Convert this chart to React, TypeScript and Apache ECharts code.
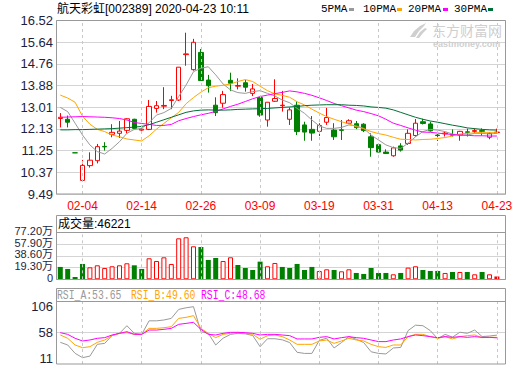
import React, { useEffect, useRef } from 'react';
import * as echarts from 'echarts';

const DATES = ['01-22','01-23','02-03','02-04','02-05','02-06','02-07','02-10','02-11','02-12','02-13','02-14','02-17','02-18','02-19','02-20','02-21','02-24','02-25','02-26','02-27','02-28','03-02','03-03','03-04','03-05','03-06','03-09','03-10','03-11','03-12','03-13','03-16','03-17','03-18','03-19','03-20','03-23','03-24','03-25','03-26','03-27','03-30','03-31','04-01','04-02','04-03','04-07','04-08','04-09','04-10','04-13','04-14','04-15','04-16','04-17','04-20','04-21','04-22','04-23'];
const TICK_DATES = ['02-04','02-14','02-26','03-09','03-19','03-31','04-13','04-23'];
const PRICE_TICKS = ['9.49','10.37','11.25','12.13','13.01','13.88','14.76','15.64','16.52'];
const VOL_TICKS = ['0','19.30万','38.60万','57.90万','77.20万'];
const RSI_TICKS = ['11','58','106'];

const OPEN = [12.55,12.52,11.16,10.04,10.64,10.84,11.42,11.91,11.95,12.07,12.52,12.08,12.11,12.96,13.05,13.28,13.30,15.14,14.53,15.23,14.11,13.09,13.17,14.10,13.86,14.00,13.57,13.40,12.49,13.25,13.07,12.52,13.09,12.29,12.11,12.03,12.40,12.08,12.09,12.36,12.34,12.32,11.81,11.49,11.19,11.04,11.44,11.54,11.86,12.42,12.33,11.88,11.93,11.90,11.88,12.01,12.03,12.06,11.79,11.98];
const CLOSE = [12.60,12.40,11.16,10.65,10.86,11.41,11.40,11.99,12.04,12.54,12.15,12.12,13.04,13.07,13.08,13.31,14.63,15.17,15.64,14.09,13.88,12.79,13.52,13.98,13.89,13.82,13.75,12.69,13.21,13.36,13.09,12.90,12.02,12.00,11.96,12.27,12.59,11.81,12.07,12.46,12.18,12.06,11.37,11.19,11.13,11.36,11.27,11.95,12.36,12.35,12.05,11.86,11.96,11.87,12.03,11.99,12.06,12.03,11.95,12.00];
const LOW = [12.19,12.19,11.16,10.04,10.56,10.73,11.25,11.79,11.76,11.95,12.12,12.05,12.08,12.79,12.93,12.93,13.26,14.69,14.49,14.09,13.60,12.65,12.99,13.66,13.73,13.64,13.46,12.62,12.22,13.22,12.83,12.29,11.88,11.65,11.65,11.84,12.29,11.68,11.68,12.33,12.12,12.00,11.00,11.18,11.13,11.00,11.21,11.48,11.81,12.31,12.02,11.64,11.82,11.82,11.65,11.82,11.95,11.86,11.71,11.95];
const HIGH = [12.77,12.67,11.16,10.87,11.18,11.52,11.59,12.32,12.45,12.56,12.54,12.22,13.30,13.26,13.82,13.47,14.63,16.03,15.78,15.37,14.32,13.41,13.67,14.41,14.18,14.11,13.95,13.42,13.21,14.14,13.67,13.00,13.25,12.42,12.65,12.36,12.98,12.36,12.49,12.52,12.45,12.36,11.95,11.55,11.30,11.41,11.55,12.11,12.53,12.54,12.42,11.97,12.01,12.11,12.05,12.14,12.15,12.15,11.99,12.14];

const MA5 = [13.00,12.83,12.36,11.88,11.48,11.21,11.11,11.34,11.61,11.95,12.11,12.15,12.38,12.69,12.79,12.96,13.44,13.91,14.45,14.59,14.65,14.32,13.95,13.71,13.60,13.57,13.64,13.68,13.57,13.46,13.30,13.19,12.96,12.76,12.49,12.25,12.15,12.15,12.19,12.29,12.25,12.15,11.88,11.68,11.48,11.37,11.34,11.55,11.81,12.02,12.11,12.08,12.02,11.92,11.88,11.88,11.95,11.95,11.92,11.95];
const MA10 = [13.50,13.38,13.21,12.64,12.32,12.11,12.02,11.88,11.81,11.72,11.68,11.64,11.85,12.12,12.35,12.58,12.80,13.15,13.40,13.62,13.80,13.86,13.90,13.95,14.05,14.13,14.05,13.86,13.68,13.55,13.49,13.41,13.23,13.10,12.93,12.77,12.63,12.52,12.42,12.33,12.22,12.14,12.02,11.94,11.88,11.79,11.71,11.70,11.68,11.70,11.71,11.74,11.78,11.84,11.92,11.95,11.97,11.99,11.99,11.99];
const MA20 = [12.60,12.61,12.62,12.63,12.62,12.61,12.60,12.58,12.55,12.49,12.39,12.35,12.31,12.27,12.27,12.31,12.46,12.55,12.63,12.70,12.76,12.84,12.94,13.04,13.13,13.24,13.35,13.44,13.50,13.56,13.61,13.67,13.63,13.57,13.49,13.39,13.28,13.16,13.07,12.98,12.89,12.83,12.75,12.66,12.52,12.36,12.27,12.17,12.08,12.00,11.99,11.96,11.93,11.90,11.88,11.87,11.85,11.85,11.84,11.84];
const MA30 = [12.09,12.09,12.10,12.10,12.11,12.12,12.13,12.14,12.16,12.18,12.20,12.23,12.30,12.40,12.50,12.60,12.70,12.80,12.86,12.89,12.90,12.89,12.89,12.90,12.92,12.93,12.94,12.95,12.96,12.98,13.00,13.02,13.04,13.07,13.09,13.10,13.11,13.11,13.11,13.09,13.08,13.06,13.02,13.00,12.97,12.90,12.80,12.70,12.60,12.52,12.45,12.40,12.34,12.28,12.23,12.17,12.14,12.11,12.09,12.08];

const VOLUME = [20.3,17.0,3.8,25.2,19.7,23.0,18.6,21.4,23.0,26.3,23.0,17.0,34.5,30.1,36.1,25.2,67.3,69.0,54.2,53.1,31.8,35.0,30.1,36.1,23.5,18.6,15.3,29.0,21.4,26.8,20.3,18.6,25.2,15.3,20.3,13.7,16.4,15.3,13.1,16.4,10.4,8.8,18.6,10.4,10.4,8.2,10.4,19.2,21.4,15.3,13.7,13.7,10.4,12.0,12.0,12.0,8.2,12.0,8.2,4.62];
const VOL_UP = [0,0,0,0,1,1,1,1,1,1,0,0,1,1,1,1,1,1,1,0,0,0,1,1,0,0,0,0,1,1,0,0,0,0,0,1,1,0,1,1,0,0,0,0,0,1,0,1,1,0,0,0,1,0,1,0,1,0,1,1];

const RSI_A = [40.4,35.5,20.1,12.2,15.0,36.7,38.5,53.0,57.0,71.0,57.0,55.0,80.0,80.0,81.5,84.5,101.0,104.0,106.0,60.0,57.0,35.5,48.0,55.0,57.0,56.0,53.0,32.4,47.0,47.0,45.0,40.0,22.0,20.0,20.0,44.0,48.0,30.0,40.0,51.0,46.0,40.0,23.0,20.0,19.0,30.0,31.0,62.0,72.0,71.0,62.0,47.0,55.0,50.0,59.0,57.0,63.0,51.0,52.0,53.65];
const RSI_B = [53.9,47.8,35.5,30.5,32.4,40.4,44.7,52.7,57.0,58.2,55.1,55.1,66.1,66.1,67.3,69.2,84.5,86.4,89.5,66.1,57.0,49.0,55.1,57.0,58.8,57.0,55.1,46.0,52.7,53.9,50.9,44.7,36.7,36.7,36.7,42.9,44.7,38.5,42.9,47.8,44.7,42.9,36.7,32.4,31.1,35.5,35.5,50.9,55.1,55.1,50.9,47.8,50.9,46.6,50.9,52.7,53.9,49.0,49.6,49.6];
const RSI_C = [58.2,55.1,47.8,42.9,44.7,47.8,49.0,53.9,57.0,60.0,55.1,55.1,63.0,63.0,64.3,66.1,73.5,75.3,77.2,64.3,55.1,53.9,57.0,58.8,58.8,58.2,57.0,53.9,55.1,55.1,53.9,52.7,46.6,46.6,46.6,49.6,50.9,46.6,49.0,50.9,49.0,47.8,44.7,41.7,41.7,44.7,46.6,50.9,53.9,52.7,50.9,49.0,50.9,49.6,50.9,49.6,50.9,49.6,49.6,48.68];

const FONT = '"Liberation Sans", Arial, "Noto Sans CJK SC", sans-serif';
const MONO = '"Liberation Mono", "DejaVu Sans Mono", "Noto Sans CJK SC", monospace';
const RED = '#ff0000';
const GREEN = '#008000';
const C_MA5 = '#999999';
const C_MA10 = '#ffa500';
const C_MA20 = '#ff00ff';
const C_MA30 = '#006f35';
const FRAME = '#999999';
const GRIDC = '#d4d4d4';
const DASH = '#c8c8c8';
const LABEL = '#1e1e40';
const WM = '#cfcfcf';

function dashLines() {
  return {
    symbol: ['none', 'none'],
    silent: true,
    label: { show: false },
    lineStyle: { type: [3, 3], color: DASH, width: 1 },
    data: TICK_DATES.map((d) => ({ xAxis: d })),
  };
}

function txt(text: string, x: number, y: number, fill: string, size = 12, extra: any = {}, el: any = {}) {
  return {
    type: 'text',
    x,
    y,
    z: 50,
    silent: true,
    ...el,
    style: { text, fill, fontSize: size, fontFamily: FONT, verticalAlign: 'middle', ...extra },
  };
}

export default function App() {
  const ref = useRef<HTMLDivElement>(null);
  useEffect(() => {
    const chart = echarts.init(ref.current!, null, { renderer: 'svg' });
    const hiddenVal = (g: number) => ({ gridIndex: g, type: 'value', min: 0, max: 1, show: false });
    const cat = (g: number, showLabel: boolean) => ({
      gridIndex: g,
      type: 'category',
      data: DATES,
      boundaryGap: true,
      axisLine: { show: false },
      axisTick: { show: false },
      splitLine: { show: false },
      axisLabel: showLabel
        ? {
            show: true,
            interval: (_i: number, v: string) => TICK_DATES.includes(v),
            color: RED,
            fontSize: 12,
            fontFamily: FONT,
            margin: 6,
          }
        : { show: false },
    });
    const frameY = (g: number, n: number, labels: string[] | null, size: number, splitColor: any) => ({
      gridIndex: g,
      type: 'value',
      min: 0,
      max: n,
      interval: 1,
      axisLine: { show: false },
      axisTick: { show: false },
      axisLabel: labels
        ? {
            formatter: (v: number) => labels[Math.round(v)],
            color: LABEL,
            fontSize: size,
            fontFamily: FONT,
            margin: 3,
            showMinLabel: true,
            showMaxLabel: true,
          }
        : { show: false },
      splitLine: { show: true, lineStyle: { color: splitColor, width: 1 } },
    });
    const dataY = (g: number, min: number, max: number) => ({ gridIndex: g, type: 'value', min, max, show: false });
    const maLine = (name: string, data: number[], color: string) => ({
      name,
      type: 'line',
      xAxisIndex: 1,
      yAxisIndex: 1,
      data,
      symbol: 'none',
      z: 4,
      lineStyle: { color, width: 1 },
      silent: true,
    });
    const rsiLine = (name: string, data: number[], color: string, extra: any = {}) => ({
      name,
      type: 'line',
      xAxisIndex: 5,
      yAxisIndex: 5,
      data,
      symbol: 'none',
      z: 4,
      lineStyle: { color, width: 1 },
      silent: true,
      ...extra,
    });

    const narrow = { fontFamily: MONO };
    const baseGraphic: any[] = [
      { type: 'rect', z: 60, silent: true, shape: { x: 56.5, y: 20.5, width: 449, height: 173.5 }, style: { fill: 'none', stroke: FRAME, lineWidth: 1 } },
      { type: 'rect', z: 60, silent: true, shape: { x: 56.5, y: 215.5, width: 449, height: 64 }, style: { fill: 'none', stroke: FRAME, lineWidth: 1 } },
      { type: 'line', z: 60, silent: true, shape: { x1: 56.5, y1: 232.5, x2: 505.5, y2: 232.5 }, style: { stroke: FRAME, lineWidth: 1 } },
      { type: 'rect', z: 60, silent: true, shape: { x: 56.5, y: 288.5, width: 449, height: 75.5 }, style: { fill: 'none', stroke: FRAME, lineWidth: 1 } },
      { type: 'line', z: 60, silent: true, shape: { x1: 56.5, y1: 301.5, x2: 505.5, y2: 301.5 }, style: { stroke: FRAME, lineWidth: 1 } },
      txt('航天彩虹[002389] 2020-04-23 10:11', 57, 9, '#000000', 12),
      txt('5PMA', 321, 9, '#000000', 11, narrow),
      { type: 'rect', z: 50, silent: true, shape: { x: 349, y: 8, width: 5, height: 3 }, style: { fill: C_MA5 } },
      txt('10PMA', 363, 9, '#000000', 11, narrow),
      { type: 'rect', z: 50, silent: true, shape: { x: 397, y: 8, width: 5, height: 3 }, style: { fill: C_MA10 } },
      txt('20PMA', 408, 9, '#000000', 11, narrow),
      { type: 'rect', z: 50, silent: true, shape: { x: 443, y: 8, width: 5, height: 3 }, style: { fill: C_MA20 } },
      txt('30PMA', 454, 9, '#000000', 11, narrow),
      { type: 'rect', z: 50, silent: true, shape: { x: 488, y: 8, width: 5, height: 3 }, style: { fill: C_MA30 } },
      // watermark
      { type: 'polygon', z: 1, silent: true, shape: { points: [[410, 37], [414, 31], [420, 26], [426, 23], [424, 26], [419, 31], [415, 37]] }, style: { fill: WM } },
      { type: 'polygon', z: 1, silent: true, shape: { points: [[416, 38], [420, 32], [425, 28], [427, 29], [423, 33], [419, 38]] }, style: { fill: WM } },
      txt('东方财富网', 432, 29.5, WM, 14, { fontFamily: '"Noto Sans CJK SC", sans-serif' }),
      txt('eastmoney.com', 433, 43.5, WM, 9, { fontWeight: 'bold' }),
      txt('成交量:46221', 58, 224, '#000000', 12),
      txt('RSI_A:53.65', 57, 295, C_MA5, 13, narrow, { scaleX: 0.75 }),
      txt('RSI_B:49.60', 131, 295, C_MA10, 13, narrow, { scaleX: 0.75 }),
      txt('RSI_C:48.68', 201, 295, C_MA20, 13, narrow, { scaleX: 0.75 }),
    ];

    const option: any = {
      animation: false,
      backgroundColor: '#ffffff',
      grid: [
        { left: 56, top: 20.6, width: 450, height: 173.4 },
        { left: 56.6, top: 20.6, width: 444, height: 173.4 },
        { left: 56, top: 232.3, width: 450, height: 47 },
        { left: 56.6, top: 232.3, width: 444, height: 47 },
        { left: 56, top: 306.7, width: 450, height: 51.6 },
        { left: 56.6, top: 301, width: 444, height: 63 },
      ],
      xAxis: [hiddenVal(0), cat(1, true), hiddenVal(2), cat(3, false), hiddenVal(4), cat(5, false)],
      yAxis: [
        frameY(0, 8, PRICE_TICKS, 13, GRIDC),
        dataY(1, 9.49, 16.52),
        frameY(2, 4, null, 12, GRIDC),
        dataY(3, 0, 77.2),
        frameY(4, 2, RSI_TICKS, 13, ['rgba(0,0,0,0)', GRIDC, 'rgba(0,0,0,0)']),
        dataY(5, 0.5, 116.5),
      ],
      series: [
        {
          name: 'grid-main',
          type: 'line',
          xAxisIndex: 1,
          yAxisIndex: 1,
          data: CLOSE,
          symbol: 'none',
          z: 1,
          silent: true,
          lineStyle: { opacity: 0 },
          markLine: dashLines(),
        },
        {
          name: 'K',
          type: 'candlestick',
          xAxisIndex: 1,
          yAxisIndex: 1,
          barWidth: 5,
          z: 3,
          data: DATES.map((_, i) => [OPEN[i], CLOSE[i], LOW[i], HIGH[i]]),
          itemStyle: { color: '#ffffff', color0: GREEN, borderColor: RED, borderColor0: GREEN, borderWidth: 1 },
        },
        maLine('MA5', MA5, C_MA5),
        maLine('MA10', MA10, C_MA10),
        maLine('MA20', MA20, C_MA20),
        maLine('MA30', MA30, C_MA30),
        {
          name: 'VOL',
          type: 'bar',
          xAxisIndex: 3,
          yAxisIndex: 3,
          barWidth: 5,
          z: 3,
          data: VOLUME.map((v, i) => ({
            value: v,
            itemStyle: VOL_UP[i]
              ? i === VOLUME.length - 1
                ? { color: RED }
                : { color: '#ffffff', borderColor: RED, borderWidth: 1 }
              : { color: GREEN },
          })),
          markLine: dashLines(),
        },
        rsiLine('RSI_A', RSI_A, C_MA5, { markLine: dashLines() }),
        rsiLine('RSI_B', RSI_B, C_MA10),
        rsiLine('RSI_C', RSI_C, C_MA20),
      ],
      graphic: baseGraphic,
    };
    chart.setOption(option);

    // Volume axis labels placed through the volume axis scale
    const volLabels = VOL_TICKS.map((t, k) => {
      const py = chart.convertToPixel({ yAxisIndex: 2 } as any, k) as unknown as number;
      return {
        type: 'text',
        x: 53,
        y: py - 1.5,
        z: 50,
        silent: true,
        style: { text: t, fill: LABEL, fontSize: 11, fontFamily: FONT, align: 'right', verticalAlign: 'middle' },
      };
    });
    chart.setOption({ graphic: [...baseGraphic, ...volLabels] });
    return () => chart.dispose();
  }, []);
  return <div ref={ref} style={{ position: 'fixed', left: 0, top: 0, width: 520, height: 365, background: '#fff' }} />;
}
